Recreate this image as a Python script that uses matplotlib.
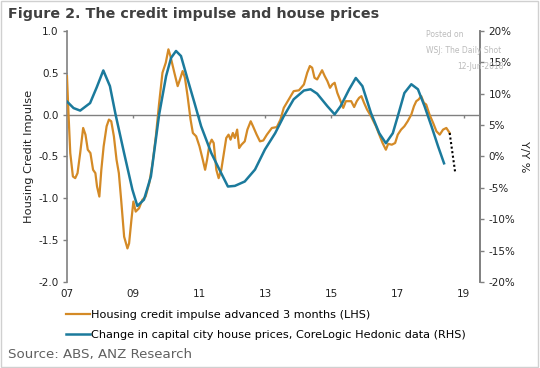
import matplotlib.pyplot as plt
from matplotlib.patches import Rectangle

# =========================
# DATA
# =========================

# housing credit impulse, advanced 3 months (LHS)
impulse_x = [
    2007.0, 2007.05, 2007.1, 2007.18, 2007.25, 2007.32, 2007.4, 2007.49, 2007.56,
    2007.63, 2007.71, 2007.79, 2007.86, 2007.91, 2007.98, 2008.04, 2008.11,
    2008.2, 2008.27, 2008.34, 2008.42, 2008.5, 2008.57, 2008.64, 2008.73,
    2008.83, 2008.88, 2008.95, 2009.01, 2009.08, 2009.18, 2009.28, 2009.38,
    2009.49, 2009.59, 2009.69, 2009.79, 2009.89, 2009.99, 2010.07, 2010.13,
    2010.2, 2010.25, 2010.35, 2010.42, 2010.5, 2010.57, 2010.65, 2010.74,
    2010.81, 2010.91, 2011.01, 2011.11, 2011.18, 2011.24, 2011.31, 2011.38,
    2011.44, 2011.52, 2011.59, 2011.67, 2011.75, 2011.82, 2011.89, 2011.95,
    2012.02, 2012.08, 2012.15, 2012.21, 2012.28, 2012.38, 2012.46, 2012.56,
    2012.63, 2012.74, 2012.84, 2012.94, 2013.05, 2013.2, 2013.35, 2013.46,
    2013.56, 2013.71, 2013.86, 2014.02, 2014.17, 2014.27, 2014.35, 2014.42,
    2014.49, 2014.57, 2014.65, 2014.72, 2014.8, 2014.88, 2014.96, 2015.03,
    2015.1, 2015.18, 2015.28, 2015.36, 2015.44, 2015.51, 2015.6, 2015.69,
    2015.77, 2015.84, 2015.91, 2015.99, 2016.08, 2016.2, 2016.35, 2016.45,
    2016.55, 2016.65, 2016.72, 2016.83, 2016.93, 2017.01, 2017.11, 2017.21,
    2017.31, 2017.42, 2017.5, 2017.57, 2017.64, 2017.72, 2017.8, 2017.87,
    2017.97, 2018.08, 2018.18, 2018.28, 2018.38, 2018.48, 2018.58,
]
impulse_y = [
    0.46, -0.02, -0.46, -0.74, -0.76, -0.70, -0.46, -0.16, -0.24,
    -0.42, -0.46, -0.66, -0.70, -0.86, -0.98, -0.66, -0.38,
    -0.14, -0.06, -0.08, -0.26, -0.54, -0.70, -1.02, -1.46,
    -1.60, -1.54, -1.26, -1.04, -1.16, -1.12, -1.02, -0.98,
    -0.82, -0.58, -0.26, 0.14, 0.50, 0.62, 0.78, 0.70,
    0.58, 0.50, 0.34, 0.42, 0.52, 0.44, 0.22, -0.06,
    -0.22, -0.26, -0.38, -0.54, -0.66, -0.54, -0.36, -0.30,
    -0.34, -0.66, -0.76, -0.66, -0.46, -0.28, -0.24, -0.30,
    -0.22, -0.28, -0.18, -0.40, -0.36, -0.32, -0.18, -0.08,
    -0.14, -0.24, -0.32, -0.31, -0.24, -0.16, -0.15, -0.06,
    0.08, 0.18, 0.28, 0.29, 0.36, 0.50, 0.58, 0.56,
    0.44, 0.42, 0.48, 0.53, 0.46, 0.40, 0.32, 0.36,
    0.38, 0.26, 0.16, 0.08, 0.16, 0.16, 0.16, 0.09,
    0.16, 0.20, 0.22, 0.14, 0.06, -0.02, -0.14, -0.24,
    -0.34, -0.42, -0.35, -0.36, -0.34, -0.24, -0.18, -0.14,
    -0.08, 0.0, 0.10, 0.16, 0.18, 0.22, 0.14, 0.12,
    0.0, -0.10, -0.20, -0.24, -0.18, -0.16, -0.22,
]

# dotted projection
proj_x = [2018.58, 2018.75]
proj_y = [-0.22, -0.70]

# change in capital city house prices, % y/y (RHS)
prices_x = [
    2007.0, 2007.2, 2007.4, 2007.7, 2007.9, 2008.1, 2008.3, 2008.47, 2008.73,
    2008.98, 2009.13, 2009.33, 2009.54, 2009.79, 2010.0, 2010.15, 2010.3,
    2010.45, 2010.65, 2010.86, 2011.06, 2011.37, 2011.67, 2011.87, 2012.08,
    2012.38, 2012.69, 2012.99, 2013.3, 2013.56, 2013.86, 2014.17, 2014.37,
    2014.57, 2014.88, 2015.1, 2015.28, 2015.54, 2015.74, 2015.94, 2016.2,
    2016.45, 2016.65, 2016.86, 2017.01, 2017.21, 2017.42, 2017.62, 2017.82,
    2018.03, 2018.23, 2018.41,
]
prices_y = [
    8.75, 7.7, 7.3, 8.5, 11.0, 13.7, 11.2, 6.7, 0.5,
    -5.3, -7.9, -6.9, -3.2, 6.7, 12.8, 15.7, 16.8,
    16.0, 12.3, 8.5, 4.8, 0.5, -2.7, -4.8, -4.7,
    -4.0, -2.1, 1.1, 3.7, 6.4, 9.1, 10.5, 10.7,
    10.0, 8.0, 6.7, 8.0, 10.7, 12.5, 11.2, 6.9,
    3.7, 2.1, 3.7, 6.4, 10.1, 11.5, 10.7, 8.0,
    4.8, 1.6, -1.1,
]

year_ticks = [2007, 2009, 2011, 2013, 2015, 2017, 2019]
year_labels = ["07", "09", "11", "13", "15", "17", "19"]
left_ticks = [-2.0, -1.5, -1.0, -0.5, 0.0, 0.5, 1.0]
right_ticks = [-20, -15, -10, -5, 0, 5, 10, 15, 20]

ORANGE = "#D48A26"
BLUE = "#1B7A9C"
GREY = "#808080"

# =========================
# FIGURE
# =========================
fig = plt.figure(figsize=(5.4, 3.68), dpi=100, facecolor="white")
ax = fig.add_axes([0.124, 0.234, 0.765, 0.682])
ax2 = ax.twinx()

ax.plot(impulse_x, impulse_y, color=ORANGE, lw=1.6, zorder=3,
        label="Housing credit impulse advanced 3 months (LHS)")
ax.plot(proj_x, proj_y, color="black", lw=1.5, ls=(0, (1, 1.2)), zorder=3)
ax2.plot(prices_x, prices_y, color=BLUE, lw=1.8, zorder=3,
         label="Change in capital city house prices, CoreLogic Hedonic data (RHS)")

# axes
ax.set_xlim(2007, 2019.5)
ax.set_ylim(-2.0, 1.0)
ax2.set_ylim(-20, 20)

ax.axhline(0, color=GREY, lw=1.0, zorder=2)
for t in year_ticks[1:]:
    ax.vlines(t, -0.045, 0, color=GREY, lw=1.0, zorder=2)

ax.set_xticks(year_ticks)
ax.set_xticklabels(year_labels)
ax.tick_params(axis="x", length=0, pad=5, labelsize=7.5, colors="#222222")

ax.set_yticks(left_ticks)
ax.set_yticklabels([f"{v:.1f}" for v in left_ticks])
ax.tick_params(axis="y", length=3, width=1, color=GREY, labelsize=7.5,
               labelcolor="#222222", pad=3)
ax2.set_yticks(right_ticks)
ax2.set_yticklabels([f"{v}%" for v in right_ticks])
ax2.tick_params(axis="y", length=3, width=1, color=GREY, labelsize=7.5,
                labelcolor="#222222", pad=3)

for a in (ax, ax2):
    a.spines["top"].set_visible(False)
    a.spines["bottom"].set_visible(False)
    a.spines["left"].set_color(GREY)
    a.spines["right"].set_color(GREY)
    a.spines["left"].set_linewidth(1.2)
    a.spines["right"].set_linewidth(1.2)
ax2.spines["left"].set_visible(False)

ax.set_ylabel("Housing Credit Impulse", fontsize=8.2, color="#222222", labelpad=3)
ax2.set_ylabel("Y/Y %", fontsize=8, color="#222222", rotation=270, labelpad=10)

# legend below the plot
h1, l1 = ax.get_legend_handles_labels()
h2, l2 = ax2.get_legend_handles_labels()
fig.legend(h1 + h2, l1 + l2, loc="upper left",
           bbox_to_anchor=(0.112, 0.172), frameon=False, fontsize=8.1,
           handlelength=2.1, handletextpad=0.15, labelspacing=0.85,
           borderpad=0.0)

# title, source, watermark
fig.text(0.015, 0.962, "Figure 2. The credit impulse and house prices",
         fontsize=10.3, fontweight="bold", color="#404040", va="center")
fig.text(0.015, 0.036, "Source: ABS, ANZ Research", fontsize=9.6,
         color="#606060", va="center")
fig.text(0.788, 0.907, "Posted on", fontsize=5.5, color="#bbbbbb", va="center")
fig.text(0.788, 0.862, "WSJ: The Daily Shot", fontsize=5.5, color="#bbbbbb",
         va="center")
fig.text(0.846, 0.818, "12-Jun-2018", fontsize=5.5, color="#bbbbbb", va="center")

# thin frame around the figure
fig.patches.append(Rectangle((0.002, 0.003), 0.995, 0.994, transform=fig.transFigure,
                             fill=False, edgecolor="#d0d0d0", lw=1.0))

fig.savefig("out.png", dpi=100, facecolor="white")
